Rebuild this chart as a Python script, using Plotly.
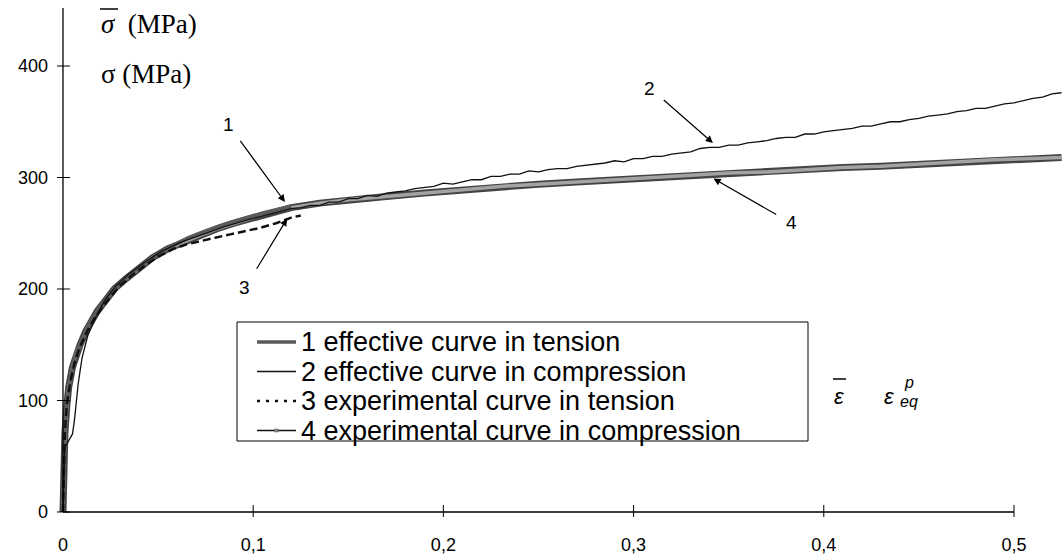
import plotly.graph_objects as go

# ---- data -------------------------------------------------------------
# 1: effective curve in tension
eps_eff_t = [0, 0.0005, 0.001, 0.002, 0.004, 0.006, 0.008, 0.01, 0.013, 0.016, 0.02,
             0.025, 0.03, 0.036, 0.043, 0.05, 0.058, 0.066, 0.075, 0.085, 0.095,
             0.105, 0.115, 0.12]
sig_eff_t = [0, 55, 75, 98, 120, 136, 146, 155, 166, 175, 185,
             196, 205, 214, 223, 231, 239, 246, 252, 258, 263,
             268, 272, 274]

# 2: effective curve in compression (measured, slightly noisy)
eps_eff_c = [0, 0.0005, 0.001, 0.003, 0.005, 0.006, 0.007, 0.008, 0.01, 0.013, 0.017,
             0.022, 0.028, 0.035, 0.043, 0.052, 0.062, 0.073, 0.085, 0.097, 0.11,
             0.12, 0.125, 0.13, 0.135, 0.14, 0.145, 0.15, 0.155, 0.16, 0.165,
             0.17, 0.175, 0.18, 0.185, 0.19, 0.195, 0.2, 0.205, 0.21, 0.215,
             0.22, 0.225, 0.23, 0.235, 0.24, 0.245, 0.25, 0.255, 0.26, 0.265,
             0.27, 0.275, 0.28, 0.285, 0.29, 0.295, 0.3, 0.305, 0.31, 0.315,
             0.32, 0.325, 0.33, 0.335, 0.34, 0.345, 0.35, 0.355, 0.36, 0.365,
             0.37, 0.375, 0.38, 0.385, 0.39, 0.395, 0.4, 0.405, 0.41, 0.415,
             0.42, 0.425, 0.43, 0.435, 0.44, 0.445, 0.45, 0.455, 0.46, 0.465,
             0.47, 0.475, 0.48, 0.485, 0.49, 0.495, 0.5, 0.505, 0.51, 0.515,
             0.52, 0.525]
sig_eff_c = [0, 40, 58, 64, 70, 82, 98, 115, 138, 158, 174,
             190, 203, 214, 224, 234, 242, 249, 256, 262, 268,
             272, 273, 275, 275, 278, 278, 281, 281, 284, 283,
             286, 287, 288, 290, 291, 292, 295, 294, 296, 298,
             298, 301, 301, 303, 303, 306, 305, 307, 308, 308,
             310, 311, 312, 313, 315, 314, 317, 317, 319, 319,
             321, 322, 323, 326, 327, 327, 329, 329, 331, 332,
             333, 335, 336, 336, 339, 339, 341, 342, 343, 344,
             346, 346, 348, 350, 350, 352, 353, 355, 356, 357,
             359, 360, 362, 362, 364, 366, 367, 369, 371, 372,
             375, 376]

# 3: experimental curve in tension
eps_exp_t = [0, 0.0005, 0.001, 0.002, 0.004, 0.006, 0.008, 0.01, 0.013, 0.016, 0.02,
             0.025, 0.03, 0.036, 0.043, 0.05, 0.058, 0.065, 0.072, 0.08, 0.088,
             0.096, 0.104, 0.112, 0.12, 0.125]
sig_exp_t = [0, 50, 72, 96, 118, 133, 144, 152, 163, 172, 182,
             193, 203, 212, 221, 229, 236, 240, 243, 246, 249,
             252, 255, 259, 264, 266]

# 4: experimental curve in compression
eps_exp_c = [0, 0.0005, 0.001, 0.002, 0.003, 0.005, 0.007, 0.009, 0.012, 0.015, 0.018,
             0.022, 0.027, 0.033, 0.04, 0.047, 0.055, 0.063, 0.072, 0.081, 0.09,
             0.1, 0.11, 0.12, 0.135, 0.15, 0.17, 0.19, 0.21, 0.23, 0.25, 0.27,
             0.29, 0.31, 0.33, 0.35, 0.37, 0.39, 0.41, 0.43, 0.45, 0.47, 0.49,
             0.51, 0.525]
sig_exp_c = [0, 45, 70, 95, 112, 130, 142, 150, 162, 172, 180,
             189, 200, 209, 219, 228, 236, 242, 248, 254, 259,
             264, 269, 273, 277, 280, 283, 286, 289, 292, 294, 296,
             298, 300, 302, 304, 305, 307, 309, 310, 312, 314, 316,
             317, 318]

assert len(eps_eff_t) == len(sig_eff_t)
assert len(eps_eff_c) == len(sig_eff_c)
assert len(eps_exp_t) == len(sig_exp_t)
assert len(eps_exp_c) == len(sig_exp_c)

x_ticks = [0, 0.1, 0.2, 0.3, 0.4, 0.5]
x_tick_text = ["0", "0,1", "0,2", "0,3", "0,4", "0,5"]
y_ticks = [0, 100, 200, 300, 400]
y_tick_text = ["0", "100", "200", "300", "400"]

legend_names = ["1 effective curve in tension",
                "2 effective curve in compression",
                "3 experimental curve in tension",
                "4 experimental curve in compression"]

# ---- figure geometry --------------------------------------------------
W, H = 1064, 557
ML, MR, MT, MB = 55, 0, 0, 40
PW, PH = W - ML - MR, H - MT - MB
X_RANGE = [-0.0042, 0.5263]
Y_RANGE = [-4.5, 459.2]
Y_AXIS_TOP = 452

SANS = "Liberation Sans, Arial, sans-serif"
SERIF = "Liberation Serif, Times New Roman, serif"

COL_BAND_EDGE = "#444444"
COL_BAND = "#a3a3a3"
COL_THICK = "#5a5a5a"
COL_THIN = "#111111"


def px(x):
    return (x - ML) / PW


def py(y):
    return 1 - (y - MT) / PH


fig = go.Figure()

# curve 4: wide grey band with dark rim
fig.add_trace(go.Scatter(x=eps_exp_c, y=sig_exp_c, mode="lines",
                         line=dict(color=COL_BAND_EDGE, width=7), hoverinfo="skip"))
fig.add_trace(go.Scatter(x=eps_exp_c, y=sig_exp_c, mode="lines",
                         line=dict(color=COL_BAND, width=3.5), hoverinfo="skip"))
# curve 1: thick dark line
fig.add_trace(go.Scatter(x=eps_eff_t, y=sig_eff_t, mode="lines",
                         line=dict(color=COL_THICK, width=4)))
# curve 3: dashed
fig.add_trace(go.Scatter(x=eps_exp_t, y=sig_exp_t, mode="lines",
                         line=dict(color=COL_THIN, width=2.5, dash="8px,4px")))
# curve 2: thin black
fig.add_trace(go.Scatter(x=eps_eff_c, y=sig_eff_c, mode="lines",
                         line=dict(color=COL_THIN, width=1.3)))

shapes = []
# axis lines
shapes.append(dict(type="line", xref="x", yref="y", x0=0, x1=0, y0=0, y1=Y_AXIS_TOP,
                   line=dict(color="black", width=1.3)))
shapes.append(dict(type="line", xref="x", yref="y", x0=0, x1=0.5, y0=0, y1=0,
                   line=dict(color="black", width=1.3)))
# crossing tick marks
for v in y_ticks:
    shapes.append(dict(type="line", xref="x", yref="y", xsizemode="pixel", xanchor=0,
                       x0=-6, x1=7, y0=v, y1=v, line=dict(color="black", width=1)))
for v in x_ticks[1:]:
    shapes.append(dict(type="line", xref="x", yref="y", ysizemode="pixel", yanchor=0,
                       y0=-6, y1=7, x0=v, x1=v, line=dict(color="black", width=1)))
# overbars on the axis symbols
shapes.append(dict(type="line", xref="paper", yref="paper", x0=px(100), x1=px(118),
                   y0=py(9), y1=py(9), line=dict(color="black", width=1.5)))
shapes.append(dict(type="line", xref="paper", yref="paper", x0=px(833), x1=px(846),
                   y0=py(379), y1=py(379), line=dict(color="black", width=1.5)))

# legend frame, key lines and labels
LEG_L, LEG_R, LEG_T, LEG_B = 237, 808, 322, 441
LEG_ROWS = [342, 371.5, 401, 430.5]
KEY_X0, KEY_X1, TEXT_X = 257, 296, 299
shapes.append(dict(type="rect", xref="paper", yref="paper",
                   x0=px(LEG_L), x1=px(LEG_R), y0=py(LEG_T), y1=py(LEG_B),
                   fillcolor="white", line=dict(color="black", width=1)))
key_styles = [dict(color=COL_THICK, width=3.5),
              dict(color=COL_THIN, width=1.3),
              dict(color=COL_THIN, width=2.5, dash="3px,6px"),
              dict(color=COL_THIN, width=1.3)]
for row, st in zip(LEG_ROWS, key_styles):
    shapes.append(dict(type="line", xref="paper", yref="paper",
                       x0=px(KEY_X0), x1=px(KEY_X1), y0=py(row), y1=py(row), line=st))
# small marker on the key of curve 4
mid = (KEY_X0 + KEY_X1) / 2
shapes.append(dict(type="rect", xref="paper", yref="paper",
                   x0=px(mid - 2), x1=px(mid + 2), y0=py(LEG_ROWS[3] - 1.5),
                   y1=py(LEG_ROWS[3] + 1.5), fillcolor="#888888",
                   line=dict(color="#555555", width=0.5)))

annotations = [
    dict(text="<i>σ</i>  (MPa)", x=px(99), y=py(24), xanchor="left", yanchor="middle",
         font=dict(family=SERIF, size=27, color="black")),
    dict(text="σ (MPa)", x=px(99), y=py(74), xanchor="left", yanchor="middle",
         font=dict(family=SERIF, size=27, color="black")),
    dict(text="<i>ε</i>", x=px(839), y=py(396), xanchor="center", yanchor="middle",
         font=dict(family=SANS, size=22, color="black")),
    dict(text="<i>ε</i>", x=px(889), y=py(396), xanchor="center", yanchor="middle",
         font=dict(family=SANS, size=22, color="black")),
    dict(text="<i>p</i>", x=px(902), y=py(382), xanchor="left", yanchor="middle",
         font=dict(family=SANS, size=16, color="black")),
    dict(text="<i>eq</i>", x=px(898), y=py(401), xanchor="left", yanchor="middle",
         font=dict(family=SANS, size=16, color="black")),
]
for row, name in zip(LEG_ROWS, legend_names):
    annotations.append(dict(text=name, x=px(TEXT_X), y=py(row), xanchor="left",
                            yanchor="middle",
                            font=dict(family=SANS, size=27, color="black")))
for a in annotations:
    a.update(xref="paper", yref="paper", showarrow=False)

# numbered call-outs pointing at the curves
callouts = [("1", 0.1167, 278, 228, 124),
            ("2", 0.3417, 331, 650, 88),
            ("3", 0.1178, 263, 245, 288),
            ("4", 0.342, 299, 791, 223)]
for label, ex, sy, tx, ty in callouts:
    tip_px = ML + (ex - X_RANGE[0]) / (X_RANGE[1] - X_RANGE[0]) * PW
    tip_py = MT + (Y_RANGE[1] - sy) / (Y_RANGE[1] - Y_RANGE[0]) * PH
    annotations.append(dict(text=label, x=ex, y=sy, xref="x", yref="y",
                            ax=tx - tip_px, ay=ty - tip_py, showarrow=True,
                            arrowhead=2, arrowsize=1.2, arrowwidth=1.2,
                            arrowcolor="black", standoff=0, startstandoff=9,
                            font=dict(family=SANS, size=19, color="black")))

fig.update_layout(
    width=W, height=H,
    margin=dict(l=ML, r=MR, t=MT, b=MB, autoexpand=False),
    paper_bgcolor="white", plot_bgcolor="white",
    showlegend=False,
    xaxis=dict(range=X_RANGE, showgrid=False, zeroline=False, showline=False,
               tickvals=x_ticks, ticktext=x_tick_text, ticks="",
               ticklabelstandoff=15,
               tickfont=dict(family=SANS, size=18, color="black")),
    yaxis=dict(range=Y_RANGE, showgrid=False, zeroline=False, showline=False,
               tickvals=y_ticks, ticktext=y_tick_text, ticks="",
               ticklabelstandoff=6,
               tickfont=dict(family=SANS, size=18, color="black")),
    shapes=shapes,
    annotations=annotations,
)

fig.write_html("out.html")
